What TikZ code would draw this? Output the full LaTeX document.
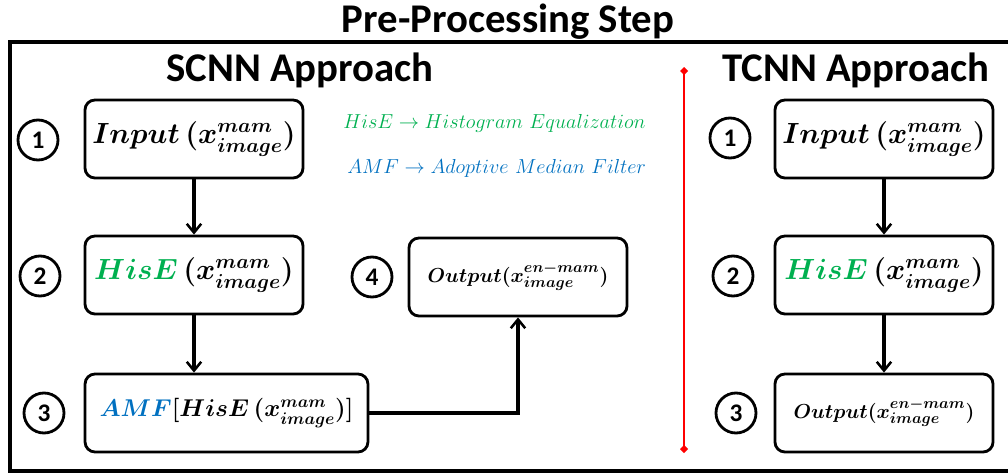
\documentclass[tikz,border=0pt]{standalone}
\usepackage{fontspec}
\setsansfont{Carlito}
\usetikzlibrary{positioning, arrows.meta}
\definecolor{hisgreen}{RGB}{0,176,80}
\definecolor{amfblue}{RGB}{0,112,192}
\tikzset{
  > = {Straight Barb[length = 2.2mm, width = 3.6mm, line width = 1.8pt]},
  heading/.style = {font = \sffamily\bfseries\fontsize{29}{33}\selectfont, inner sep = 0pt},
  stage/.style = {draw, line width = 2pt, rounded corners = 2.5mm, inner sep = 2pt,
    minimum width = 5.45cm, minimum height = 1.95cm, font = \boldmath\fontsize{20}{24}\selectfont},
  wide/.style = {stage, minimum width = 7.07cm, font = \boldmath\fontsize{17}{20}\selectfont},
  small/.style = {font = \boldmath\fontsize{15}{18}\selectfont},
  stepno/.style = {draw, circle, line width = 2pt, minimum size = 1cm, inner sep = 0pt,
    font = \sffamily\bfseries\fontsize{18}{20}\selectfont},
  flow/.style = {->, line width = 2.3pt},
  legend/.style = {font = \fontsize{15.5}{18}\selectfont, inner sep = 0pt}
}

\begin{document}
\begin{tikzpicture}[x = 0.025cm, y = -0.025cm]
\useasboundingbox (0,0) rectangle (1008,475);

%% Frame and headings
\draw [line width = 2.2pt] (1008,42) -- (10,42) -- (10,471) -- (1008,471);
\node [heading] (title) at (508,22) {Pre-Processing Step};
\node [heading] (scnn) at (300,70) {SCNN Approach};
\node [heading] (tcnn) at (856,70) {TCNN Approach};

%% Separator
\coordinate (sepa) at (684,67);
\coordinate (sepb) at (684,453);
\draw [red, line width = 2pt, {Diamond[length = 2mm, width = 2mm]}-{Diamond[length = 2mm, width = 2mm]}] (sepa) -- (sepb);

%% SCNN stages
\node [stage] (in1) at (194,139) {$Input\,(x^{mam}_{image})$};
\node [stage] (hise1) at (194,275) {$\textcolor{hisgreen}{HisE}\,(x^{mam}_{image})$};
\node [wide] (amf1) at (226.5,413) {$\textcolor{amfblue}{AMF}[HisE\,(x^{mam}_{image})]$};
\node [stage, small] (out1) at (518,277) {$Output(x^{en-mam}_{image})$};

\node [stepno] (s1) at (38,140) {1};
\node [stepno] (s2) at (40,276) {2};
\node [stepno] (s3) at (44,413) {3};
\node [stepno] (s4) at (372,277) {4};

\draw [flow] (in1) -- (hise1);
\draw [flow] (hise1.south) -- (hise1.south |- amf1.north);
\draw [flow] (amf1.east) -| (out1.south);

%% Abbreviations
\node [legend, text = hisgreen, anchor = west] (absh) at (343,123) {$HisE \rightarrow Histogram\ Equalization$};
\node [legend, text = amfblue, anchor = west] (absa) at (347,168) {$AMF \rightarrow Adoptive\ Median\ Filter$};

%% TCNN stages
\node [stage] (in2) at (884,139) {$Input\,(x^{mam}_{image})$};
\node [stage] (hise2) at (884,275) {$\textcolor{hisgreen}{HisE}\,(x^{mam}_{image})$};
\node [stage, small] (out2) at (884,413) {$Output(x^{en-mam}_{image})$};

\node [stepno] (t1) at (730,138) {1};
\node [stepno] (t2) at (733,276) {2};
\node [stepno] (t3) at (736,413) {3};

\draw [flow] (in2) -- (hise2);
\draw [flow] (hise2) -- (out2);

\end{tikzpicture}
\end{document}
